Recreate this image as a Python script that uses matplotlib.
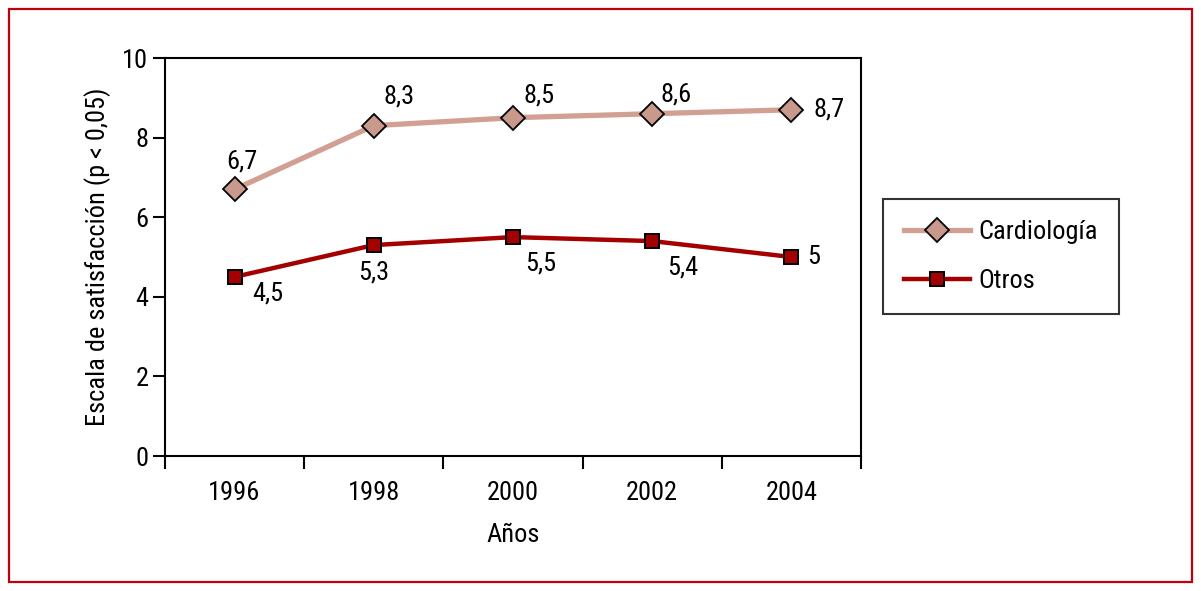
import matplotlib
matplotlib.use("Agg")
import matplotlib.pyplot as plt
from matplotlib import font_manager
from matplotlib.patches import Rectangle

# prefer a narrow sans if one is present
names = {f.name for f in font_manager.fontManager.ttflist}
family = 'Liberation Sans'
for cand in ['Liberation Sans Narrow', 'Roboto Condensed', 'Open Sans Condensed',
             'Noto Sans Condensed', 'DejaVu Sans Condensed']:
    if cand in names:
        family = cand
        break
plt.rcParams['font.family'] = [family, 'DejaVu Sans']

YEARS = ['1996', '1998', '2000', '2002', '2004']
CARDIO = [6.7, 8.3, 8.5, 8.6, 8.7]
OTROS = [4.5, 5.3, 5.5, 5.4, 5.0]
CARDIO_LABELS = ['6,7', '8,3', '8,5', '8,6', '8,7']
OTROS_LABELS = ['4,5', '5,3', '5,5', '5,4', '5']

# label offsets (points)
cardio_off = [(5, 20), (18, 21), (19, 16), (17, 14), (27, 0)]
otros_off = [(24, -12), (0, -20), (20, -19), (22, -19), (16, 0)]

FS = 19

fig = plt.figure(figsize=(12.01, 5.91), dpi=100)
ax = fig.add_axes([165 / 1201, 1 - 456 / 591, 696 / 1201, 398 / 591])

x = list(range(len(YEARS)))
ax.plot(x, CARDIO, color='#d1a093', lw=3.8, marker='D', ms=12,
        mfc='#c99a8c', mec='black', mew=1.3, label='Cardiología', zorder=3)
ax.plot(x, OTROS, color='#a50000', lw=3.2, marker='s', ms=10.5,
        mfc='#a50000', mec='black', mew=1.4, label='Otros', zorder=3)

for xi, v, t, o in zip(x, CARDIO, CARDIO_LABELS, cardio_off):
    ax.annotate(t, (xi, v), xytext=o, textcoords='offset points',
                ha='center', va='center', fontsize=FS)
for xi, v, t, o in zip(x, OTROS, OTROS_LABELS, otros_off):
    ax.annotate(t, (xi, v), xytext=o, textcoords='offset points',
                ha='center', va='center', fontsize=FS)

ax.set_xlim(-0.5, 4.5)
ax.set_ylim(0, 10)
ax.set_yticks([0, 2, 4, 6, 8, 10])
ax.set_xticks([i - 0.5 for i in range(6)])
ax.set_xticklabels([])
ax.set_xticks(x, minor=True)
ax.set_xticklabels(YEARS, minor=True)
ax.tick_params(axis='x', which='major', length=9, width=1.5, direction='out')
ax.tick_params(axis='x', which='minor', length=0, pad=18, labelsize=FS)
ax.tick_params(axis='y', length=9, width=1.5, direction='out', labelsize=FS, pad=3)
for s in ax.spines.values():
    s.set_linewidth(1.5)

ax.set_xlabel('Años', fontsize=FS, labelpad=13)
ax.set_ylabel('Escala de satisfacción (p < 0,05)', fontsize=FS, labelpad=8)

leg = fig.legend(loc='upper left', bbox_to_anchor=(883 / 1201, 1 - 199 / 591),
                 frameon=True, fancybox=False, edgecolor='black', fontsize=FS,
                 handlelength=2.5, borderpad=0.8, labelspacing=0.95,
                 handletextpad=0.3, borderaxespad=0)
leg.get_frame().set_linewidth(1.5)

fig.patches.append(Rectangle((9 / 1201, 9 / 591), 1183 / 1201, 573 / 591,
                             transform=fig.transFigure, fill=False,
                             edgecolor='#c0000f', lw=1.6))

fig.savefig('out.png', dpi=100)
